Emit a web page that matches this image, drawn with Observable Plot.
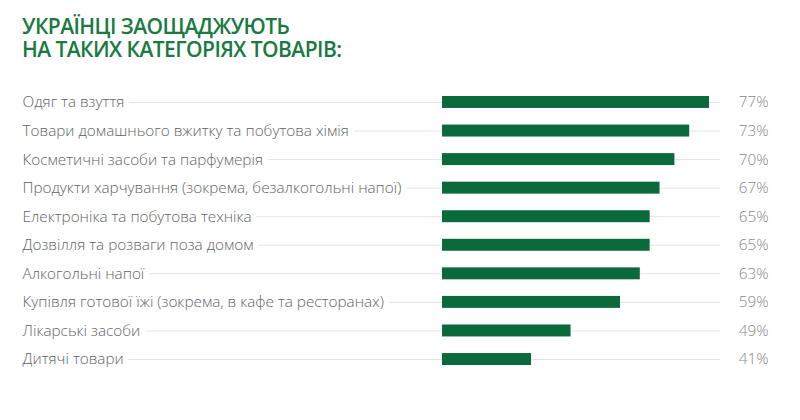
<!DOCTYPE html>
<html>
<head>
<meta charset="utf-8">
<script src="https://cdn.jsdelivr.net/npm/d3@7"></script>
<script src="https://cdn.jsdelivr.net/npm/@observablehq/plot@0.6"></script>
<style>
  html, body { margin: 0; padding: 0; background: #fff; }
  body { width: 800px; height: 420px; overflow: hidden; font-family: "Open Sans", sans-serif; }
  #title { box-sizing: border-box; height: 70px; padding: 15px 0 0 22px; color: #1a7a42; font-size: 21px; font-weight: 600; letter-spacing: -0.55px; }
  #title div { height: 23px; line-height: 23px; }
  #chart svg { display: block; }
</style>
</head>
<body>
<div id="title"><div>УКРАЇНЦІ ЗАОЩАДЖУЮТЬ</div><div>НА ТАКИХ КАТЕГОРІЯХ ТОВАРІВ:</div></div>
<div id="chart"></div>
<script>
const categories = [
  "Одяг та взуття",
  "Товари домашнього вжитку та побутова хімія",
  "Косметичні засоби та парфумерія",
  "Продукти харчування (зокрема, безалкогольні напої)",
  "Електроніка та побутова техніка",
  "Дозвілля та розваги поза домом",
  "Алкогольні напої",
  "Купівля готової їжі (зокрема, в кафе та ресторанах)",
  "Лікарські засоби",
  "Дитячі товари"
];
const values = [77, 73, 70, 67, 65, 65, 63, 59, 49, 41];
const baseline = 23;

const data = categories.map((c, i) => ({category: c, value: values[i]}));

const chart = Plot.plot({
  width: 800,
  height: 323,
  marginTop: 17.7,
  marginBottom: 19.7,
  marginLeft: 22,
  marginRight: 80,
  style: {fontFamily: "'Open Sans', sans-serif", background: "#fff"},
  x: {domain: [baseline, 77], range: [442, 709], axis: null},
  y: {domain: categories, padding: 0, round: false, axis: null},
  marks: [
    Plot.ruleY(data, {y: "category", stroke: "#e3e3e3", strokeWidth: 1}),
    Plot.text(data, {
      y: "category", text: "category", frameAnchor: "left", textAnchor: "start",
      fill: "#636363", stroke: "white", strokeWidth: 12, strokeLinejoin: "round",
      fontSize: 15.3, fontWeight: 300
    }),
    Plot.barX(data, {y: "category", x1: baseline, x2: "value", fill: "#0a6a3b", insetTop: 8.3, insetBottom: 8.3}),
    Plot.text(data, {
      y: "category", text: d => d.value + "%", frameAnchor: "right", textAnchor: "end", dx: 48,
      fill: "#888", fontSize: 15.3, fontWeight: 300
    })
  ]
});
document.getElementById("chart").appendChild(chart);
</script>
</body>
</html>
